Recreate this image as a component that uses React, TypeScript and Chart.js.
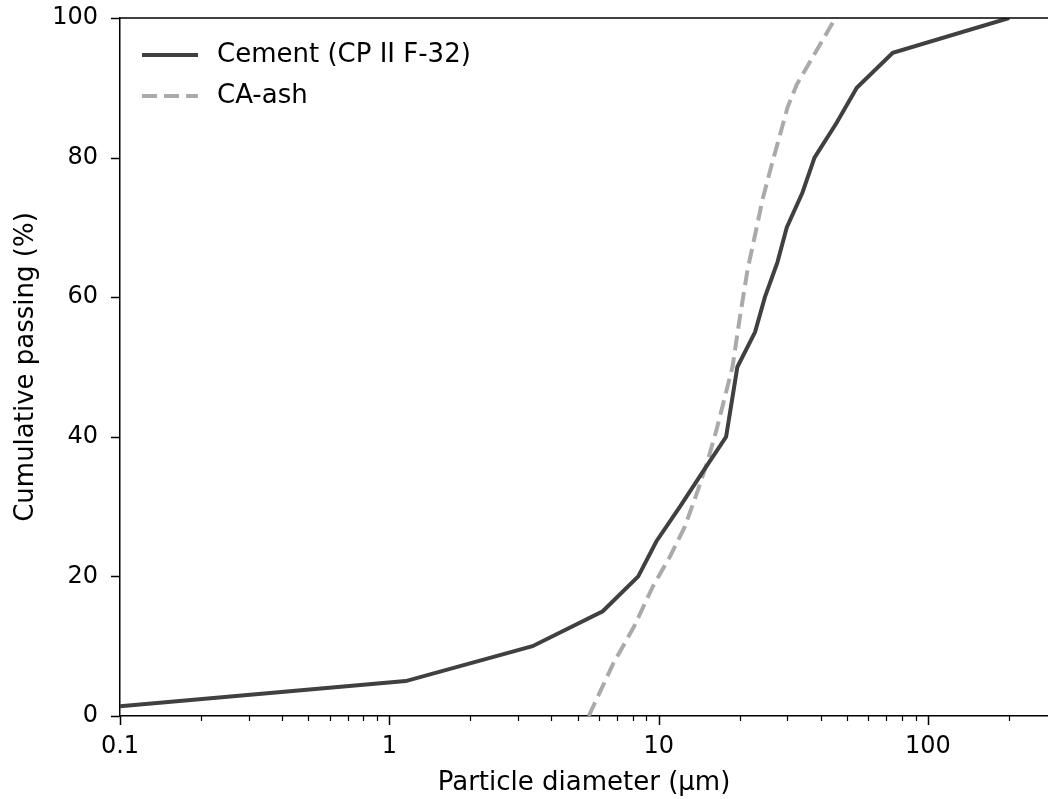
import React, { useEffect, useRef } from "react";
import { Chart, registerables } from "chart.js";

Chart.register(...registerables);

// ---- data ----
const cementSize = [0.1, 1.15, 3.4, 6.2, 8.4, 9.8, 12, 14.6, 17.8, 19.6, 22.8, 24.8, 27.6, 29.9, 34.2, 37.9, 45.8, 54.4, 74, 200];
const cementPassing = [1.4, 5, 10, 15, 20, 25, 30, 35, 40, 50, 55, 60, 65, 70, 75, 80, 85, 90, 95, 100];

const ashSize = [5.5, 6.8, 8.1, 9.5, 11.0, 12.5, 14.0, 15.1, 16.4, 18.8, 20.0, 21.4, 23.0, 24.3, 26.3, 28.1, 30.1, 32.5, 36.3, 41.3, 45.3];
const ashPassing = [0, 7.6, 12.8, 18.5, 22.8, 27.1, 32.4, 36.2, 41, 50, 57, 64, 69.6, 74, 79, 83, 87.2, 90.4, 93.6, 97.3, 100];

const xMajorTicks = [0.1, 1, 10, 100];
const xTickLabels = ["0.1", "1", "10", "100"];
const xMinorTicks = [0.2, 0.3, 0.4, 0.5, 0.6, 0.7, 0.8, 0.9, 2, 3, 4, 5, 6, 7, 8, 9, 20, 30, 40, 50, 60, 70, 80, 90, 200];
const yTicks = [0, 20, 40, 60, 80, 100];
const yTickLabels = ["0", "20", "40", "60", "80", "100"];

const seriesLabels = ["Cement (CP II F-32)", "CA-ash"];
const FONT = "DejaVu Sans";

const frameAndTicks = {
  id: "frameAndTicks",
  afterDraw(chart: any) {
    const { ctx, chartArea, scales } = chart;
    const xs = scales.x;
    const ys = scales.y;
    ctx.save();
    ctx.strokeStyle = "#000";
    ctx.lineWidth = 1.5;
    ctx.beginPath();
    ctx.moveTo(chartArea.left - 0.75, chartArea.top);
    ctx.lineTo(chartArea.right + 2, chartArea.top);
    ctx.stroke();
    const b = chartArea.bottom;
    ctx.beginPath();
    xMajorTicks.forEach((v) => {
      const p = Math.round(xs.getPixelForValue(v)) + 0.5;
      ctx.moveTo(p, b);
      ctx.lineTo(p, b + 9);
    });
    ctx.stroke();
    ctx.lineWidth = 1.2;
    ctx.beginPath();
    xMinorTicks.forEach((v) => {
      const p = Math.round(xs.getPixelForValue(v)) + 0.5;
      ctx.moveTo(p, b);
      ctx.lineTo(p, b + 5);
    });
    ctx.stroke();
    ctx.lineWidth = 1.5;
    ctx.beginPath();
    yTicks.forEach((v) => {
      const p = Math.round(ys.getPixelForValue(v)) + 0.5;
      ctx.moveTo(chartArea.left, p);
      ctx.lineTo(chartArea.left - 9, p);
    });
    ctx.stroke();
    ctx.restore();
  },
};

const innerLegend = {
  id: "innerLegend",
  afterDatasetsDraw(chart: any) {
    const { ctx, chartArea } = chart;
    ctx.save();
    chart.data.datasets.forEach((ds: any, i: number) => {
      const y = chartArea.top + 37 + i * 41;
      const x0 = chartArea.left + 22;
      ctx.strokeStyle = ds.borderColor;
      ctx.lineWidth = ds.borderWidth;
      ctx.setLineDash(ds.borderDash || []);
      ctx.beginPath();
      ctx.moveTo(x0, y);
      ctx.lineTo(x0 + 56, y);
      ctx.stroke();
      ctx.setLineDash([]);
      ctx.fillStyle = "#000";
      ctx.font = `26px "${FONT}"`;
      ctx.textBaseline = "middle";
      ctx.textAlign = "left";
      ctx.fillText(ds.label, x0 + 75, y);
    });
    ctx.restore();
  },
};

export default function App() {
  const ref = useRef<HTMLCanvasElement | null>(null);
  useEffect(() => {
    if (!ref.current) return;
    const chart = new Chart(ref.current, {
      type: "line",
      data: {
        datasets: [
          {
            label: seriesLabels[0],
            data: cementSize.map((x, i) => ({ x, y: cementPassing[i] })),
            borderColor: "#404040",
            borderWidth: 4,
            pointRadius: 0,
            fill: false,
            tension: 0,
          },
          {
            label: seriesLabels[1],
            data: ashSize.map((x, i) => ({ x, y: ashPassing[i] })),
            borderColor: "#aaaaaa",
            borderWidth: 4,
            borderDash: [15, 7],
            pointRadius: 0,
            fill: false,
            tension: 0,
          },
        ],
      },
      options: {
        responsive: false,
        animation: false,
        layout: { padding: { top: 18, left: 0, right: 0, bottom: 0 } },
        plugins: { legend: { display: false }, tooltip: { enabled: false } },
        scales: {
          x: {
            type: "logarithmic",
            position: "bottom",
            min: 0.1,
            max: 279,
            afterBuildTicks: (s: any) => {
              s.ticks = xMajorTicks.map((v) => ({ value: v }));
            },
            afterFit: (s: any) => {
              s.height = 83;
              s.paddingLeft = 0;
              s.paddingRight = 0;
            },
            grid: { display: false, drawTicks: false },
            border: { display: true, color: "#000", width: 1.5 },
            ticks: {
              autoSkip: false,
              maxRotation: 0,
              padding: 16,
              color: "#000",
              font: { family: FONT, size: 24 },
              callback: (_v: any, i: number) => xTickLabels[i],
            },
            title: {
              display: true,
              text: "Particle diameter (µm)",
              color: "#000",
              font: { family: FONT, size: 26 },
              padding: { top: 0, bottom: 0 },
            },
          },
          y: {
            type: "linear",
            min: 0,
            max: 100,
            afterBuildTicks: (s: any) => {
              s.ticks = yTicks.map((v) => ({ value: v }));
            },
            afterFit: (s: any) => {
              s.width = 120;
              s.paddingTop = 0;
              s.paddingBottom = 0;
            },
            grid: { display: false, drawTicks: false },
            border: { display: true, color: "#000", width: 1.5 },
            ticks: {
              padding: 22,
              color: "#000",
              font: { family: FONT, size: 24 },
              callback: (_v: any, i: number) => yTickLabels[i],
            },
            title: {
              display: true,
              text: "Cumulative passing (%)",
              color: "#000",
              font: { family: FONT, size: 26 },
              padding: { top: 11, bottom: 0 },
            },
          },
        },
      },
      plugins: [frameAndTicks, innerLegend],
    } as any);
    return () => chart.destroy();
  }, []);
  return (
    <div style={{ position: "fixed", left: 0, top: 0, width: 1048, height: 799, overflow: "hidden", background: "#fff" }}>
      <canvas ref={ref} width={1048} height={799} style={{ display: "block" }} />
    </div>
  );
}
